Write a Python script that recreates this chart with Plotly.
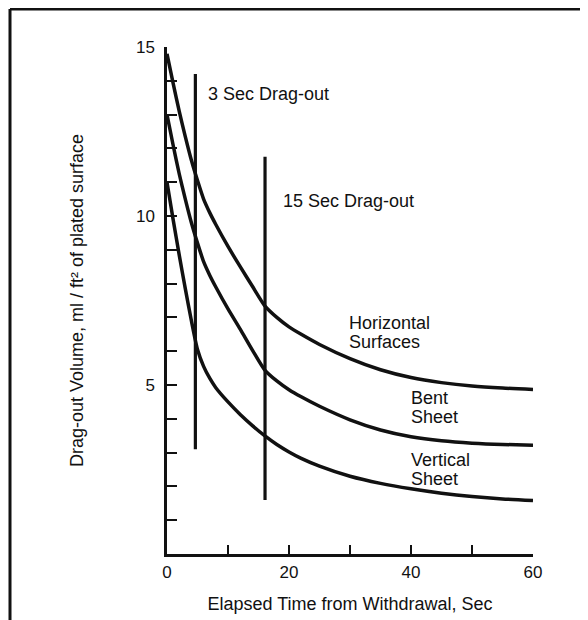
import plotly.graph_objects as go

# ---- data ----
time_s = [0, 1, 2, 3, 4, 5, 6, 7, 8, 10, 12, 14, 16, 18, 20, 22, 25, 30, 35, 40, 45, 50, 55, 60]
horizontal = [14.8, 13.93, 13.1, 12.35, 11.65, 11.05, 10.5, 10.1, 9.75, 9.1, 8.5, 7.92, 7.35,
              7.0, 6.72, 6.5, 6.2, 5.78, 5.45, 5.22, 5.07, 4.97, 4.91, 4.87]
bent = [13.0, 12.1, 11.25, 10.5, 9.8, 9.2, 8.65, 8.25, 7.9, 7.25, 6.65, 6.03, 5.45,
        5.12, 4.86, 4.65, 4.37, 3.97, 3.67, 3.47, 3.35, 3.28, 3.24, 3.22]
vertical = [11.0, 9.9, 8.85, 7.85, 6.9, 6.05, 5.55, 5.2, 4.92, 4.5, 4.13, 3.8, 3.5,
            3.24, 3.02, 2.83, 2.6, 2.3, 2.09, 1.93, 1.8, 1.7, 1.63, 1.58]

dragout_labels = ["3 Sec Drag-out", "15 Sec Drag-out"]
dragout_x = [4.65, 16.07]
dragout_top = [14.2, 11.75]
dragout_bottom = [3.1, 1.6]

curve_labels = [["Horizontal", "Surfaces"], ["Bent", "Sheet"], ["Vertical", "Sheet"]]

x_tick_vals = [0, 10, 20, 30, 40, 50, 60]
x_tick_text = ["0", "", "20", "", "40", "", "60"]
y_tick_vals = list(range(1, 16))
y_tick_text = ["5" if v == 5 else "10" if v == 10 else "15" if v == 15 else "" for v in y_tick_vals]

FONT = "Liberation Sans, Arial, Helvetica, sans-serif"
INK = "#111111"

fig = go.Figure()
for ys in (horizontal, bent, vertical):
    fig.add_trace(go.Scatter(x=time_s, y=ys, mode="lines",
                             line=dict(color=INK, width=3.5, shape="spline", smoothing=0.6),
                             hoverinfo="skip", showlegend=False))
for xv, y0, y1 in zip(dragout_x, dragout_bottom, dragout_top):
    fig.add_trace(go.Scatter(x=[xv, xv], y=[y0, y1], mode="lines",
                             line=dict(color=INK, width=3.2),
                             hoverinfo="skip", showlegend=False))

# text labels
label_pos = [(6.4, 13.6), (18.7, 10.44)]
for txt, (lx, ly) in zip(dragout_labels, label_pos):
    fig.add_annotation(x=lx, y=ly, text=txt, showarrow=False, xanchor="left", yanchor="middle",
                       font=dict(family=FONT, size=18, color=INK))
curve_label_pos = [(29.5, [6.82, 6.28]), (39.6, [4.61, 4.04]), (39.6, [2.78, 2.21])]
for lines, (lx, lys) in zip(curve_labels, curve_label_pos):
    for t, ly in zip(lines, lys):
        fig.add_annotation(x=lx, y=ly, text=t, showarrow=False, xanchor="left", yanchor="middle",
                           font=dict(family=FONT, size=18, color=INK))

# the page body has an 8px default margin, so layout margins are offset by it
W, H = 588, 620
OFF = 8
ML, MR, MT, MB = 167 - OFF, 55 + OFF, 47 - OFF, 66 + OFF
pw, ph = W - ML - MR, H - MT - MB
def px(xp): return (xp - OFF - ML) / pw
def py(yp): return (H - MB - (yp - OFF)) / ph
# figure frame (top and left edges)
fig.add_shape(type="line", xref="paper", yref="paper", x0=px(10), x1=px(596), y0=py(9), y1=py(9),
              line=dict(color=INK, width=3))
fig.add_shape(type="line", xref="paper", yref="paper", x0=px(10), x1=px(10), y0=py(9), y1=py(628),
              line=dict(color=INK, width=3))

fig.update_layout(
    width=W, height=H, autosize=False,
    margin=dict(l=ML, r=MR, t=MT, b=MB, autoexpand=False),
    paper_bgcolor="white", plot_bgcolor="white",
    font=dict(family=FONT, size=17, color=INK),
    hovermode=False,
    xaxis=dict(range=[0, 60], showgrid=False, zeroline=False, showline=True, linecolor=INK, linewidth=2.5,
               automargin=False,
               ticks="inside", tickvals=x_tick_vals, ticktext=x_tick_text, ticklen=9, tickwidth=2,
               tickcolor=INK, tickfont=dict(family=FONT, size=17, color=INK), ticklabelstandoff=1,
               title=dict(text="Elapsed Time from Withdrawal, Sec", standoff=17,
                          font=dict(family=FONT, size=18, color=INK))),
    yaxis=dict(range=[0, 15], showgrid=False, zeroline=False, showline=True, linecolor=INK, linewidth=2.5,
               automargin=False,
               ticks="inside", tickvals=y_tick_vals, ticktext=y_tick_text, ticklen=10, tickwidth=2,
               tickcolor=INK, tickfont=dict(family=FONT, size=17, color=INK), ticklabelstandoff=6,
               title=dict(text="Drag-out Volume, ml / ft² of plated surface", standoff=48,
                          font=dict(family=FONT, size=18, color=INK))),
)

fig.write_html("out.html")
